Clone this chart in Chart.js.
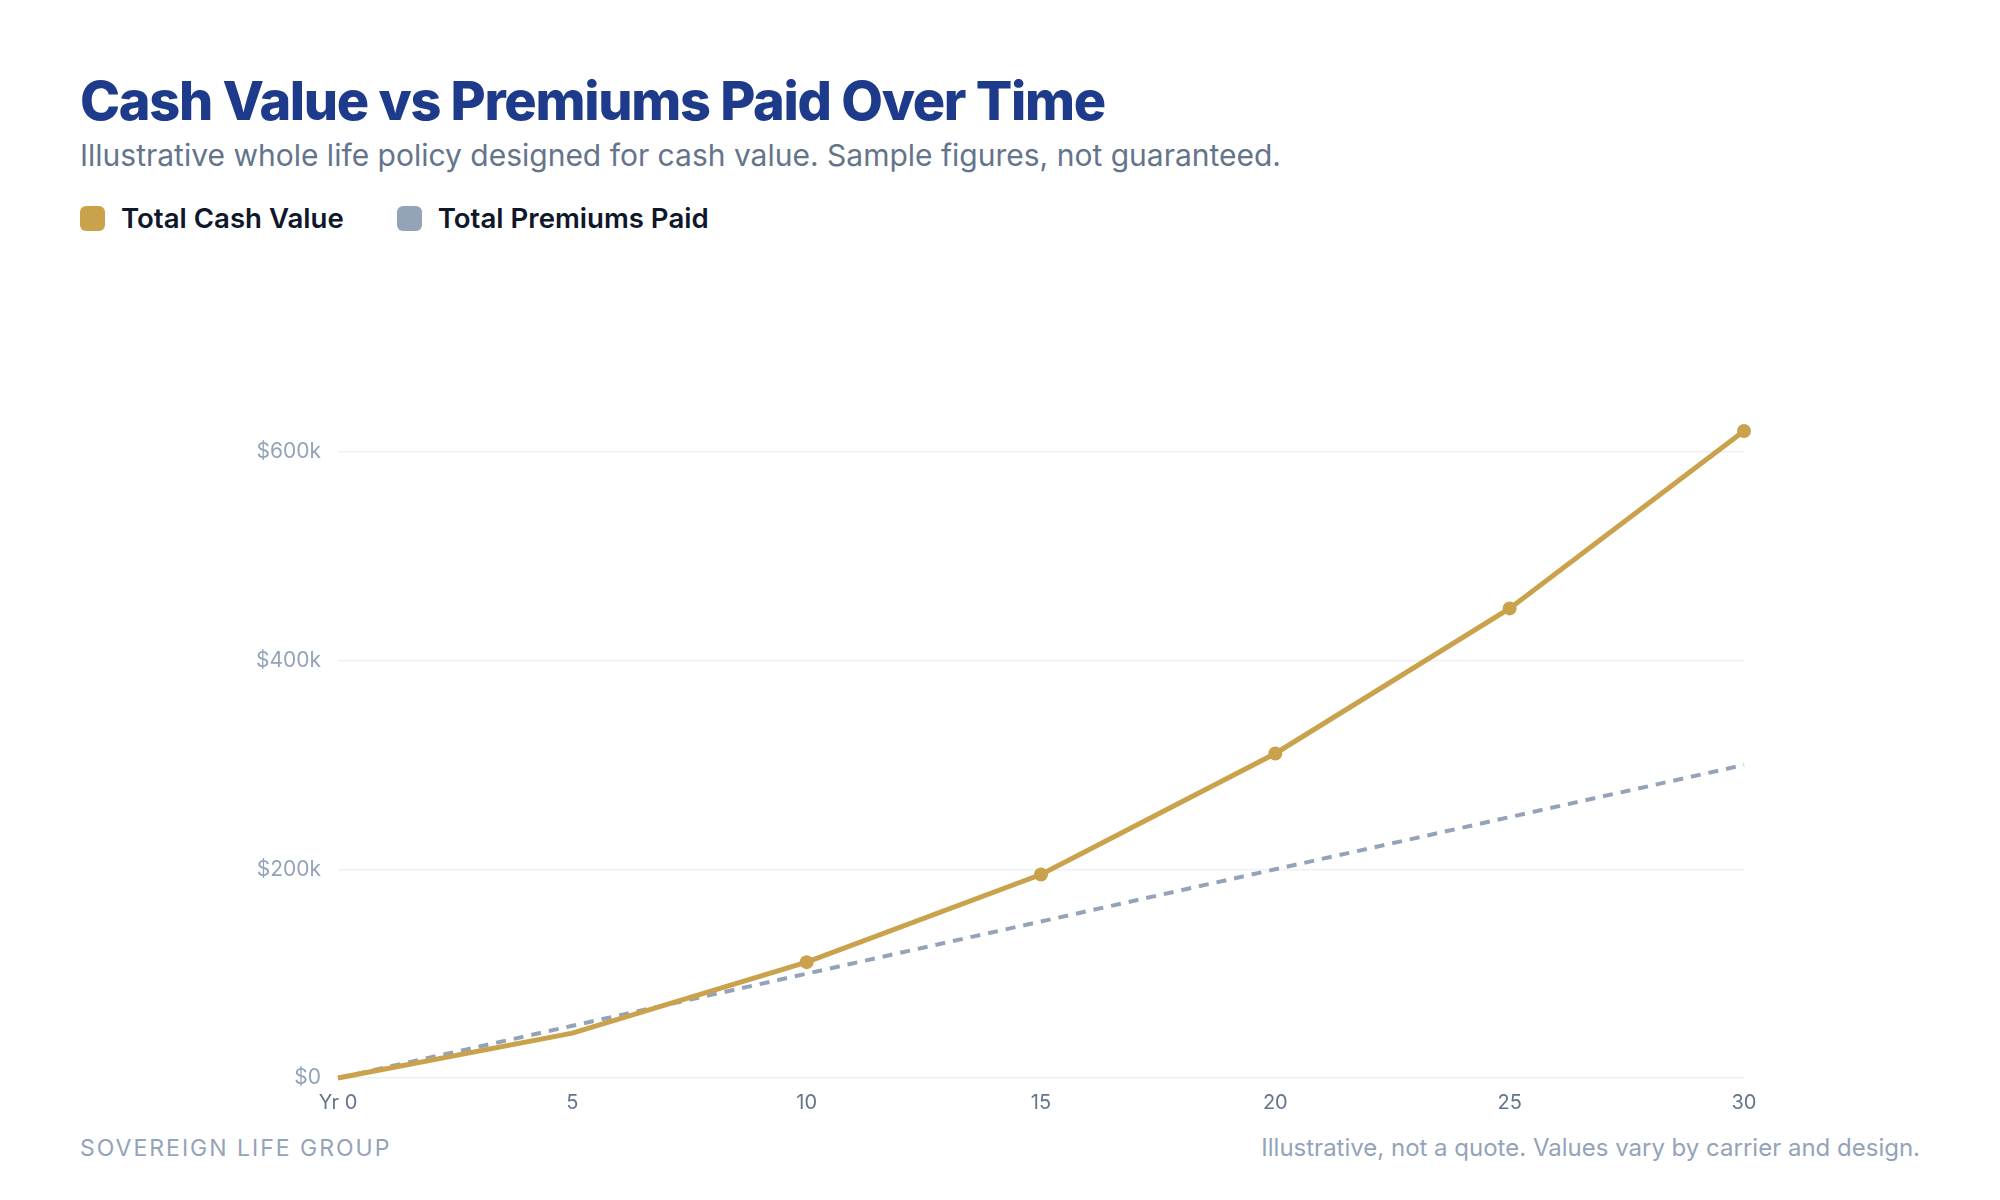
<!DOCTYPE html>
<html>
<head>
<meta charset="utf-8">
<script src="https://cdn.jsdelivr.net/npm/chart.js@4.4.1/dist/chart.umd.min.js"></script>
<style>
  html, body { margin: 0; padding: 0; background: #ffffff; }
  body { width: 2000px; height: 1200px; position: relative; overflow: hidden; font-family: Inter, "Noto Sans", sans-serif; }
  #title { position: absolute; left: 80px; top: 74px; margin: 0; font-size: 54px; font-weight: 800; color: #1e3a8a; letter-spacing: -1.3px; line-height: 1; white-space: nowrap; }
  #subtitle { position: absolute; left: 80px; top: 137px; margin: 0; font-size: 30px; font-weight: 400; color: #64748b; line-height: 1.2; white-space: nowrap; }
  #legend { position: absolute; left: 80px; top: 201px; display: flex; align-items: center; }
  .lg-item { display: flex; align-items: center; margin-right: 53px; }
  .lg-box { width: 25px; height: 25px; border-radius: 6px; margin-right: 16px; }
  .lg-text { font-size: 27.6px; font-weight: 600; color: #0f172a; white-space: nowrap; }
  #wrap { position: absolute; left: 80px; top: 300px; width: 1840px; height: 830px; }
  #brand { position: absolute; left: 80px; top: 1134px; font-size: 23px; font-weight: 400; color: #94a3b8; letter-spacing: 2px; white-space: nowrap; }
  #note { position: absolute; right: 80px; top: 1133px; font-size: 24px; font-weight: 400; color: #94a3b8; white-space: nowrap; }
</style>
</head>
<body>
<h1 id="title">Cash Value vs Premiums Paid Over Time</h1>
<p id="subtitle">Illustrative whole life policy designed for cash value. Sample figures, not guaranteed.</p>
<div id="legend"></div>
<div id="wrap"><canvas id="chart"></canvas></div>
<div id="brand">SOVEREIGN LIFE GROUP</div>
<div id="note">Illustrative, not a quote. Values vary by carrier and design.</div>
<script>
// ---- data ----
const years = ['Yr 0', '5', '10', '15', '20', '25', '30'];
const cashValue = [0, 43000, 111000, 195000, 311000, 450000, 620000];
const premiumsPaid = [0, 50000, 100000, 150000, 200000, 250000, 300000];
const cashPointRadius = [0, 0, 7, 7, 7, 7, 7];
const seriesNames = ['Total Cash Value', 'Total Premiums Paid'];
const seriesColors = ['#c9a24b', '#94a3b8'];
const yTickValues = [0, 200000, 400000, 600000];
const yMax = 620000;

// ---- legend (HTML) ----
const legendEl = document.getElementById('legend');
seriesNames.forEach((name, i) => {
  const item = document.createElement('div');
  item.className = 'lg-item';
  const box = document.createElement('span');
  box.className = 'lg-box';
  box.style.background = seriesColors[i];
  const txt = document.createElement('span');
  txt.className = 'lg-text';
  txt.textContent = name;
  item.appendChild(box); item.appendChild(txt);
  legendEl.appendChild(item);
});

function fmtMoney(v) {
  if (v === 0) return '$0';
  return '$' + Math.round(v / 1000) + 'k';
}

new Chart(document.getElementById('chart'), {
  type: 'line',
  data: {
    labels: years,
    datasets: [
      {
        label: seriesNames[0],
        data: cashValue,
        borderColor: seriesColors[0],
        backgroundColor: seriesColors[0],
        borderWidth: 5,
        pointRadius: cashPointRadius,
        pointHoverRadius: cashPointRadius,
        pointBorderWidth: 0,
        pointBackgroundColor: seriesColors[0],
        tension: 0,
        fill: false,
        clip: false,
        order: 1
      },
      {
        label: seriesNames[1],
        data: premiumsPaid,
        borderColor: seriesColors[1],
        backgroundColor: seriesColors[1],
        borderWidth: 4,
        borderDash: [10, 8],
        pointRadius: 0,
        tension: 0,
        fill: false,
        clip: false,
        order: 2
      }
    ]
  },
  options: {
    responsive: true,
    maintainAspectRatio: false,
    animation: false,
    layout: { padding: { top: 131, right: 176, left: 0, bottom: 0 } },
    plugins: {
      legend: { display: false },
      title: { display: false },
      tooltip: { enabled: false }
    },
    scales: {
      x: {
        type: 'category',
        offset: false,
        grid: { display: false, drawTicks: false },
        border: { display: false },
        ticks: {
          color: '#64748b',
          font: { family: 'Inter', size: 20 },
          padding: 13,
          maxRotation: 0,
          autoSkip: false
        },
        afterFit: (s) => { s.height = 52; }
      },
      y: {
        min: 0,
        max: yMax,
        grid: { color: '#eef1f4', lineWidth: 1.5, drawTicks: false },
        border: { display: false },
        afterBuildTicks: (s) => { s.ticks = yTickValues.map(v => ({ value: v })); },
        ticks: {
          color: '#94a3b8',
          font: { family: 'Inter', size: 21 },
          padding: 17,
          callback: (v) => fmtMoney(v)
        },
        afterFit: (s) => { s.width = 258; }
      }
    }
  }
});
</script>
</body>
</html>
